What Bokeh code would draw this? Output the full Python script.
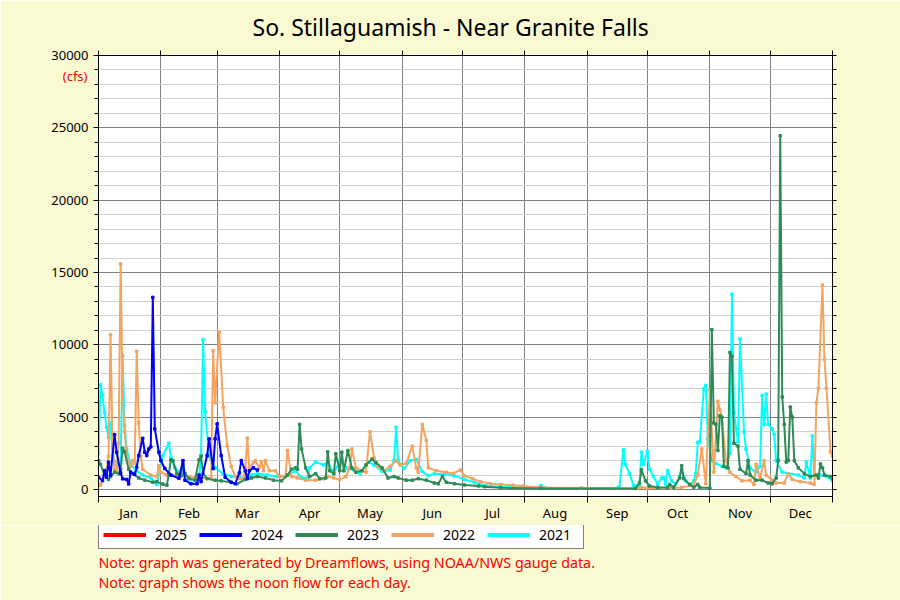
from bokeh.plotting import figure
from bokeh.layouts import column
from bokeh.models import (Range1d, FixedTicker, LinearAxis, Legend, LegendItem,
                          Label, ColumnDataSource)
from bokeh.embed import file_html
from bokeh.resources import INLINE

# ---------------- data ----------------
month_labels = ["Jan", "Feb", "Mar", "Apr", "May", "Jun",
                "Jul", "Aug", "Sep", "Oct", "Nov", "Dec"]
month_starts = [0, 31, 59, 90, 120, 151, 181, 212, 243, 273, 304, 334, 365]
month_mids = [15, 45, 74, 105, 135, 166, 196, 227, 258, 288, 319, 349]

years = ["2025", "2024", "2023", "2022", "2021"]
colors = ["#FF0000", "#0000FF", "#2E8B57", "#F4A460", "#00FFFF"]

days_2025 = []
flow_2025 = []

days_2024 = [0, 2, 3, 4, 5, 6, 8, 9, 11, 12, 14, 15, 16, 18, 19, 20, 22, 23, 24, 25,
             26, 27, 28, 30, 31, 33, 36, 40, 42, 43, 46, 49, 50, 51, 54, 55, 57, 58,
             59, 61, 63, 66, 68, 70, 71, 73, 74, 75, 77, 79]
flow_2024 = [850, 620, 1300, 850, 1890, 1000, 3800, 2580, 1150, 740, 700, 390, 1200,
             1050, 1540, 2350, 3540, 2580, 2350, 2800, 2950, 13280, 4190, 2580, 2000,
             1450, 1000, 780, 2000, 650, 400, 400, 1000, 550, 2350, 3500, 1450, 3500,
             4540, 2350, 850, 500, 400, 1150, 2000, 1300, 750, 1300, 1500, 1350]

days_2023 = [0, 1, 3, 5, 6, 8, 10, 11, 12, 13, 15, 17, 20, 23, 27, 29, 32, 34, 35, 36,
             37, 39, 41, 42, 43, 45, 48, 50, 51, 52, 54, 58, 61, 66, 69, 73, 76, 79,
             83, 87, 91, 94, 96, 98, 99, 100, 101, 103, 105, 108, 110, 113, 114, 115,
             117, 118, 120, 121, 122, 124, 126, 128, 131, 133, 136, 138, 141, 144,
             147, 149, 153, 156, 159, 163, 167, 169, 171, 173, 177, 182, 189, 192,
             200, 220, 267, 269, 270, 272, 274, 278, 283, 284, 286, 289, 290, 291,
             294, 296, 298, 299, 304, 305, 306, 307, 308, 309, 310, 311, 313, 314,
             315, 316, 318, 319, 322, 323, 324, 327, 330, 333, 335, 337, 338, 339,
             340, 341, 342, 343, 344, 345, 346, 348, 351, 354, 357, 358, 359, 360,
             361, 364, 365]
flow_2023 = [2000, 1750, 1000, 700, 900, 1200, 1100, 1400, 2850, 2600, 1400, 1100, 800,
             650, 500, 550, 380, 300, 1100, 2050, 2000, 1100, 950, 1770, 1100, 750,
             650, 2050, 2300, 1100, 750, 650, 600, 500, 400, 700, 800, 900, 800, 650,
             600, 1000, 1400, 1500, 1400, 4500, 2800, 1500, 900, 1100, 750, 800, 2600,
             1300, 1100, 2470, 1300, 2580, 1300, 2700, 1500, 1200, 1300, 1700, 2100,
             1850, 1500, 800, 900, 800, 650, 650, 750, 650, 450, 400, 900, 500, 400,
             320, 250, 200, 120, 80, 80, 450, 1360, 600, 250, 150, 150, 350, 150, 800,
             1650, 750, 350, 150, 350, 150, 100, 11050, 4600, 4500, 2700, 5100, 5000,
             1600, 1500, 9480, 9200, 3200, 3000, 1400, 1100, 2000, 1000, 650, 650, 450,
             400, 800, 2000, 24450, 6400, 4500, 1900, 2000, 5700, 5000, 2000, 1500,
             1100, 900, 1000, 800, 1770, 1500, 1000, 900, 800]

days_2022 = [0, 1, 3, 4, 5, 6, 7, 8, 9, 10, 11, 12, 13, 14, 16, 17, 18, 19, 20, 21, 22,
             26, 29, 30, 31, 34, 40, 45, 48, 56, 57, 58, 60, 62, 64, 66, 68, 70, 72,
             73, 74, 75, 77, 78, 80, 81, 82, 83, 85, 88, 90, 93, 94, 96, 99, 103, 108,
             112, 114, 117, 120, 123, 125, 126, 128, 131, 133, 135, 137, 139, 142,
             145, 148, 150, 153, 156, 158, 159, 161, 163, 164, 168, 173, 176, 180,
             182, 186, 190, 195, 200, 206, 211, 220, 240, 268, 270, 273, 285, 290,
             296, 298, 300, 302, 304, 306, 308, 309, 310, 312, 314, 317, 320, 324,
             326, 327, 329, 331, 332, 335, 337, 341, 343, 345, 349, 354, 356, 357,
             358, 360, 361, 362, 364, 365]
flow_2022 = [400, 300, 900, 1400, 2300, 10700, 2800, 1400, 1200, 3200, 15600, 6500,
             4000, 2300, 1600, 2000, 1800, 9550, 4600, 2300, 1400, 1000, 900, 1650,
             1200, 1000, 1000, 900, 800, 800, 9600, 6000, 10860, 5700, 3000, 1600, 900,
             750, 700, 1500, 3550, 1500, 1850, 2000, 1500, 1900, 1300, 2000, 1300,
             1300, 900, 900, 2700, 900, 800, 650, 650, 750, 900, 800, 700, 900, 1500,
             2800, 1500, 1300, 1200, 4000, 2200, 1600, 1300, 1600, 2000, 1700, 1800,
             3000, 1500, 1200, 4500, 3400, 1500, 1300, 1200, 1100, 1350, 950, 750, 550,
             400, 350, 300, 230, 150, 100, 80, 150, 100, 120, 150, 300, 1000, 2800,
             400, 6900, 1200, 6100, 5500, 5000, 2000, 1200, 900, 600, 650, 350, 1750,
             800, 2000, 1000, 650, 450, 450, 1100, 700, 550, 450, 350, 6000, 7000,
             14130, 9000, 7000, 2600, 2300]

days_2021 = [0, 1, 2, 3, 4, 5, 6, 7, 9, 11, 12, 13, 14, 16, 19, 22, 26, 29, 32, 35, 36,
             38, 42, 46, 50, 51, 52, 53, 55, 58, 62, 66, 70, 73, 76, 79, 84, 89, 93,
             98, 101, 104, 105, 108, 112, 114, 117, 120, 124, 127, 130, 134, 137, 141,
             145, 147, 148, 149, 152, 155, 158, 161, 164, 167, 172, 177, 182, 187, 193,
             200, 210, 218, 220, 222, 240, 258, 259, 261, 262, 264, 266, 269, 270, 271,
             273, 274, 276, 278, 280, 281, 282, 283, 285, 287, 289, 290, 292, 294, 296,
             297, 298, 299, 301, 302, 303, 305, 307, 310, 312, 314, 315, 316, 318, 319,
             321, 322, 324, 327, 329, 330, 331, 332, 333, 335, 336, 337, 340, 348, 351,
             352, 354, 355, 356, 359, 362, 365]
flow_2021 = [2500, 7250, 6500, 5340, 4300, 3600, 4600, 2350, 1700, 1800, 9250, 4400,
             2800, 1700, 1300, 1000, 800, 350, 2350, 3200, 2200, 1500, 1000, 700, 700,
             2400, 10360, 5400, 2300, 1500, 1100, 900, 850, 800, 1000, 1100, 1000, 900,
             900, 1300, 800, 800, 1500, 1900, 1700, 1900, 1100, 2000, 1450, 1350, 1100,
             1900, 1700, 1250, 1350, 2000, 4300, 2000, 1450, 2000, 2100, 1250, 950,
             1100, 1050, 950, 700, 500, 250, 200, 150, 120, 280, 130, 100, 100, 200,
             2740, 1750, 1100, 300, 300, 2580, 1750, 2650, 1400, 900, 380, 800, 800,
             380, 1300, 600, 380, 900, 1400, 600, 300, 600, 1100, 3270, 3300, 6950,
             7200, 3500, 2000, 1800, 1600, 1500, 2500, 13500, 5300, 3300, 10400, 4000,
             2800, 1500, 1200, 1600, 6500, 4500, 6600, 4500, 4200, 3800, 2000, 1200,
             1000, 800, 1900, 800, 3700, 1000, 1000, 900, 600]

y_major = [0, 5000, 10000, 15000, 20000, 25000, 30000]
y_minor = list(range(0, 30001, 1000))
unit_pos = [28600]
unit_label = ["(cfs)"]

title_text = "So. Stillaguamish - Near Granite Falls"
notes = ["Note: graph was generated by Dreamflows, using NOAA/NWS gauge data.",
         "Note: graph shows the noon flow for each day."]

# ---------------- main figure ----------------
FONT = "Noto Sans"
BG = "#FAFAD2"

p = figure(frame_width=734, frame_height=441,
           x_range=Range1d(0, 365), y_range=Range1d(-480, 30000),
           output_backend="svg", toolbar_location=None,
           min_border_left=98, min_border_right=68,
           min_border_top=55, min_border_bottom=29,
           background_fill_color="white", border_fill_color=BG,
           outline_line_color="black")

p.title.text = title_text
p.title.align = "left"
p.title.offset = 154
p.title.standoff = 16
p.title.text_font = FONT
p.title.text_font_size = "23px"
p.title.text_font_style = "normal"
p.title.text_color = "#000000"

yticker = FixedTicker(ticks=y_major, minor_ticks=y_minor)
xticker = FixedTicker(ticks=month_mids, minor_ticks=month_starts)

# grids
p.xgrid.ticker = FixedTicker(ticks=month_starts)
p.xgrid.grid_line_color = "#808080"
p.ygrid.ticker = yticker
p.ygrid.grid_line_color = "#808080"
p.ygrid.minor_grid_line_color = "#D0D0D0"

# bottom axis
xa = p.xaxis[0]
xa.ticker = xticker
xa.major_label_overrides = {m: lab for m, lab in zip(month_mids, month_labels)}
xa.major_tick_out = 0
xa.major_tick_in = 0
xa.minor_tick_out = 6
xa.minor_tick_in = 0
xa.major_label_standoff = 1
xa.major_label_text_font = FONT
xa.major_label_text_font_size = "13px"
xa.major_label_text_color = "#000000"
xa.axis_line_color = "black"
xa.minor_tick_line_color = "black"

# left axis
ya = p.yaxis[0]
ya.ticker = yticker
ya.major_tick_out = 5
ya.major_tick_in = 0
ya.minor_tick_out = 4
ya.minor_tick_in = 0
ya.major_label_standoff = 5
ya.major_label_text_font = FONT
ya.major_label_text_font_size = "13px"
ya.major_label_text_color = "#000000"
ya.axis_line_color = "black"

# "(cfs)" unit label as an extra left axis, pulled back under the tick labels
unit_axis = LinearAxis(ticker=FixedTicker(ticks=unit_pos),
                       major_label_overrides=dict(zip(unit_pos, unit_label)),
                       major_tick_out=0, major_tick_in=0, minor_tick_out=0, minor_tick_in=0,
                       axis_line_color=None, major_tick_line_color=None,
                       major_label_standoff=-39, major_label_text_color="#FF0000",
                       major_label_text_font=FONT, major_label_text_font_size="13px")
p.add_layout(unit_axis, "left")

# top axis (ticks only)
top = LinearAxis(ticker=FixedTicker(ticks=[], minor_ticks=month_starts),
                 minor_tick_out=5, minor_tick_in=0, major_tick_out=0,
                 axis_line_color="black", minor_tick_line_color="black")
p.add_layout(top, "above")

# right axis (ticks only)
right = LinearAxis(ticker=FixedTicker(ticks=[], minor_ticks=y_minor),
                   minor_tick_out=4, minor_tick_in=0, major_tick_out=0,
                   axis_line_color="black", minor_tick_line_color="black")
p.add_layout(right, "right")

# series (oldest first so newer years sit on top)
series = {
    "2021": (days_2021, flow_2021),
    "2022": (days_2022, flow_2022),
    "2023": (days_2023, flow_2023),
    "2024": (days_2024, flow_2024),
    "2025": (days_2025, flow_2025),
}
color_of = dict(zip(years, colors))
for yr in ["2021", "2022", "2023", "2024", "2025"]:
    d, f = series[yr]
    src = ColumnDataSource(dict(x=d, y=f))
    p.line("x", "y", source=src, line_color=color_of[yr], line_width=2,
           line_join="round")
    p.scatter("x", "y", source=src, marker="square", size=2.5,
              color=color_of[yr])

# ---------------- footer figure: legend and notes ----------------
# (its frame is aligned with the main frame, so x=0 is the main frame's left edge)
FOOT_H = 600 - (55 + 441 + 29)
f = figure(width=900, height=FOOT_H, x_range=Range1d(0, 1), y_range=Range1d(0, 1),
           output_backend="svg", toolbar_location=None,
           x_axis_location=None, y_axis_location=None,
           min_border=0, outline_line_color=None,
           background_fill_color=BG, border_fill_color=BG)
f.grid.visible = False

nan = float("nan")
items = []
for yr in years:
    r = f.line(x=[nan], y=[nan], line_color=color_of[yr], line_width=4)
    items.append(LegendItem(label=yr, renderers=[r]))
legend = Legend(items=items, orientation="horizontal", location=(0, 51),
                glyph_width=43, glyph_height=17, label_height=17, label_width=40,
                label_standoff=9, spacing=4, padding=4, margin=0,
                border_line_color="black", border_line_width=1,
                background_fill_color="white", background_fill_alpha=1.0,
                label_text_font=FONT, label_text_font_size="14px",
                label_text_color="#000000")
f.add_layout(legend)

for t, ypos in zip(notes, [38, 18]):
    f.add_layout(Label(x=0, y=ypos, x_units="screen", y_units="screen", text=t,
                       text_font=FONT, text_font_size="14.3px", text_color="#FF0000",
                       text_align="left", text_baseline="middle"))

layout = column(p, f, spacing=0)
open("out.html", "w").write(file_html(layout, INLINE))
